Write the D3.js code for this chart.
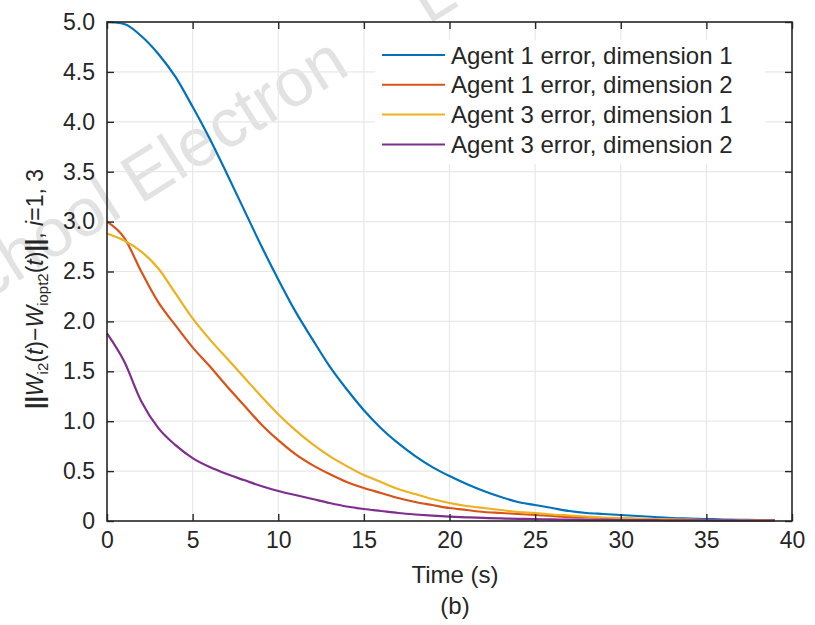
<!DOCTYPE html>
<html>
<head>
<meta charset="utf-8">
<script src="https://cdn.jsdelivr.net/npm/d3@7"></script>
<style>
  body { margin: 0; background: #fff; }
  text { font-family: "Liberation Sans", Arial, sans-serif; fill: #262626; }
</style>
</head>
<body>
<div id="chart"></div>
<script>
// Set the dimensions and margins of the chart
var margin = {top: 22, right: 23, bottom: 104, left: 107},
width = 815 - margin.left - margin.right,
height = 625 - margin.top - margin.bottom;

// time samples (s)
var time = d3.range(0, 40, 1);

// series values
var agent1_dim1 = [5.00, 4.98, 4.86, 4.68, 4.45, 4.15, 3.83, 3.48, 3.12, 2.76,
  2.42, 2.10, 1.82, 1.55, 1.32, 1.11, 0.93, 0.78, 0.65, 0.54,
  0.45, 0.37, 0.30, 0.24, 0.19, 0.16, 0.13, 0.10, 0.08, 0.07,
  0.06, 0.05, 0.04, 0.03, 0.025, 0.02, 0.015, 0.012, 0.01, 0.008];
var agent1_dim2 = [3.00, 2.84, 2.50, 2.19, 1.96, 1.74, 1.55, 1.35, 1.16, 0.97,
  0.81, 0.67, 0.56, 0.47, 0.39, 0.33, 0.28, 0.23, 0.19, 0.16,
  0.13, 0.11, 0.09, 0.08, 0.07, 0.06, 0.05, 0.04, 0.035, 0.03,
  0.025, 0.02, 0.017, 0.014, 0.012, 0.01, 0.008, 0.007, 0.006, 0.005];
var agent3_dim1 = [2.88, 2.81, 2.70, 2.53, 2.28, 2.03, 1.82, 1.63, 1.44, 1.25,
  1.07, 0.91, 0.77, 0.65, 0.55, 0.46, 0.39, 0.32, 0.27, 0.22,
  0.18, 0.15, 0.13, 0.11, 0.09, 0.08, 0.065, 0.055, 0.045, 0.035,
  0.03, 0.025, 0.02, 0.016, 0.013, 0.01, 0.008, 0.007, 0.006, 0.005];
var agent3_dim2 = [1.88, 1.60, 1.20, 0.93, 0.76, 0.63, 0.54, 0.47, 0.41, 0.35,
  0.30, 0.26, 0.22, 0.18, 0.145, 0.12, 0.10, 0.08, 0.065, 0.053,
  0.044, 0.037, 0.031, 0.026, 0.022, 0.019, 0.016, 0.014, 0.012, 0.011,
  0.01, 0.009, 0.008, 0.007, 0.007, 0.006, 0.006, 0.005, 0.005, 0.005];

var series_names = ["Agent 1 error, dimension 1", "Agent 1 error, dimension 2",
  "Agent 3 error, dimension 1", "Agent 3 error, dimension 2"];
var series_values = [agent1_dim1, agent1_dim2, agent3_dim1, agent3_dim2];
var series_colors = ["#0072BD", "#D95319", "#EDB120", "#7E2F8E"];

var x_ticks = d3.range(0, 41, 5);
var y_ticks = d3.range(0, 5.01, 0.5);

var axis_color = "#262626",
grid_color = "#e8e8e8",
tick_len = 7,
font_size = 23;

var svg = d3.select("#chart").append("svg")
.attr("width", 815)
.attr("height", 625);

// watermark text in the background
var wm = svg.append("text")
.attr("transform", "translate(-52,325) rotate(-32)")
.style("font-size", "68px")
.style("fill", "#e2e2e2");
wm.append("tspan").text("School Electron");
wm.append("tspan").attr("dx", 90).text("L");

var g = svg.append("g")
.attr("transform", "translate(" + margin.left + "," + margin.top + ")");

var x = d3.scaleLinear().domain([0, 40]).range([0, width]);
var y = d3.scaleLinear().domain([0, 5]).range([height, 0]);

// grid lines
g.append("g")
.selectAll("line.vgrid")
.data(x_ticks.slice(1, -1))
.enter().append("line")
.attr("x1", function(d) { return x(d); })
.attr("x2", function(d) { return x(d); })
.attr("y1", 0).attr("y2", height)
.style("stroke", grid_color).style("stroke-width", 1.2);

g.append("g")
.selectAll("line.hgrid")
.data(y_ticks.slice(1, -1))
.enter().append("line")
.attr("x1", 0).attr("x2", width)
.attr("y1", function(d) { return y(d); })
.attr("y2", function(d) { return y(d); })
.style("stroke", grid_color).style("stroke-width", 1.2);

// curves
var line = d3.line()
.curve(d3.curveMonotoneX)
.x(function(d, i) { return x(time[i]); })
.y(function(d) { return y(d); });

g.selectAll("path.series")
.data(series_values)
.enter().append("path")
.attr("class", "series")
.attr("d", line)
.style("fill", "none")
.style("stroke", function(d, i) { return series_colors[i]; })
.style("stroke-width", 2.2);

// axes: ticks pointing inward, box on all sides
function styleAxis(sel) {
  sel.select(".domain").remove();
  sel.selectAll(".tick line").style("stroke", axis_color).style("stroke-width", 1.4);
  sel.selectAll(".tick text").style("font-size", font_size + "px").style("fill", axis_color);
}

g.append("g")
.attr("transform", "translate(0," + height + ")")
.call(d3.axisBottom(x).tickValues(x_ticks).tickSize(-tick_len).tickPadding(tick_len + 4))
.call(styleAxis);

g.append("g")
.call(d3.axisTop(x).tickValues(x_ticks).tickSize(-tick_len).tickFormat(""))
.call(styleAxis);

g.append("g")
.call(d3.axisLeft(y).tickValues(y_ticks).tickSize(-tick_len).tickPadding(tick_len + 5)
  .tickFormat(function(d) { return d === 0 ? "0" : d3.format(".1f")(d); }))
.call(styleAxis);

g.append("g")
.attr("transform", "translate(" + width + ",0)")
.call(d3.axisRight(y).tickValues(y_ticks).tickSize(-tick_len).tickFormat(""))
.call(styleAxis);

g.append("rect")
.attr("width", width).attr("height", height)
.style("fill", "none")
.style("stroke", axis_color)
.style("stroke-width", 1.6);

// legend
var legend = g.append("g")
.attr("transform", "translate(268,18)");

legend.append("rect")
.attr("width", 390).attr("height", 124)
.style("fill", "#fff");

var legend_row = legend.selectAll("g.row")
.data(series_names)
.enter().append("g")
.attr("transform", function(d, i) { return "translate(0," + (15 + i * 29.8) + ")"; });

legend_row.append("line")
.attr("x1", 7).attr("x2", 70)
.style("stroke", function(d, i) { return series_colors[i]; })
.style("stroke-width", 2);

legend_row.append("text")
.attr("x", 76)
.attr("dy", "0.36em")
.style("font-size", "24px")
.text(function(d) { return d; });

// axis labels
svg.append("text")
.attr("x", 455).attr("y", 583)
.attr("text-anchor", "middle")
.style("font-size", "24px")
.text("Time (s)");

svg.append("text")
.attr("x", 455).attr("y", 614)
.attr("text-anchor", "middle")
.style("font-size", "24px")
.text("(b)");

var ylab = svg.append("text")
.attr("transform", "translate(43,289) rotate(-90)")
.attr("text-anchor", "middle")
.style("font-size", "23px");

ylab.append("tspan").style("font-weight", "bold").text("||");
ylab.append("tspan").style("font-style", "italic").text("W");
ylab.append("tspan").attr("dy", 5).style("font-size", "15px").text("i2");
ylab.append("tspan").attr("dy", -5).text("(");
ylab.append("tspan").style("font-style", "italic").text("t");
ylab.append("tspan").text(")\u2212");
ylab.append("tspan").style("font-style", "italic").text("W");
ylab.append("tspan").attr("dy", 5).style("font-size", "15px").text("iopt2");
ylab.append("tspan").attr("dy", -5).text("(");
ylab.append("tspan").style("font-style", "italic").text("t");
ylab.append("tspan").text(")");
ylab.append("tspan").style("font-weight", "bold").text("||");
ylab.append("tspan").text(", ");
ylab.append("tspan").style("font-style", "italic").text("i");
ylab.append("tspan").text("=1, 3");
</script>
</body>
</html>
